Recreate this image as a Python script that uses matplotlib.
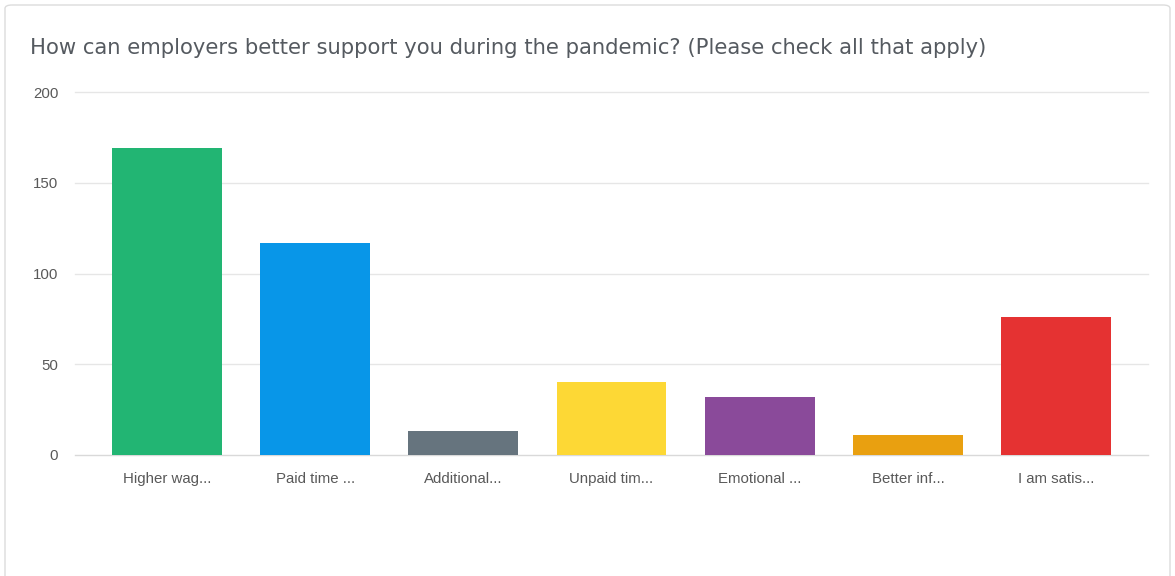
import matplotlib.pyplot as plt
from matplotlib.patches import FancyBboxPatch

# Survey answers (labels truncated as shown on the axis)
categories = ['Higher wag...', 'Paid time ...', 'Additional...', 'Unpaid tim...',
              'Emotional ...', 'Better inf...', 'I am satis...']
counts = [169, 117, 13, 40, 32, 11, 76]
colors = ['#22b573', '#0896e8', '#66747e', '#fdd835', '#8a4a9a', '#e9a010', '#e53232']
yticks = [0, 50, 100, 150, 200]

title = 'How can employers better support you during the pandemic? (Please check all that apply)'

fig = plt.figure(figsize=(11.75, 5.76), dpi=100)

# card outline
card = FancyBboxPatch((5 / 1175, -0.05), 1165 / 1175, 1.0 - 5 / 576 + 0.05,
                      boxstyle='round,pad=0,rounding_size=0.006',
                      transform=fig.transFigure, facecolor='white',
                      edgecolor='#dcdcdc', linewidth=1.0, zorder=-5)
fig.patches.append(card)

ax = fig.add_axes([75 / 1175, 1 - 455 / 576, (1148 - 75) / 1175, (455 - 92) / 576])
ax.set_zorder(2)
ax.set_facecolor('none')

x = range(len(categories))
ax.bar(x, counts, width=0.742, color=colors, zorder=3)

ax.set_ylim(0, 200)
ax.set_xlim(-0.62, len(categories) - 1 + 0.62)
ax.set_yticks(yticks)
ax.set_xticks(list(x))
ax.set_xticklabels(categories)

for v in yticks:
    ax.axhline(v, color='#d9d9d9' if v == 0 else '#e6e6e6', linewidth=1.0,
               zorder=1, clip_on=False)

for side in ax.spines.values():
    side.set_visible(False)
ax.tick_params(axis='both', length=0, labelsize=10.8, labelcolor='#595959')
ax.tick_params(axis='y', pad=12)
ax.tick_params(axis='x', pad=12)
for lbl in ax.get_xticklabels() + ax.get_yticklabels():
    lbl.set_fontfamily('Liberation Sans')

fig.text(30 / 1175, 1 - 48 / 576, title, fontsize=15.2, color='#555a60',
         family='DejaVu Sans', va='center', ha='left', zorder=5)

fig.savefig('out.png', dpi=100, facecolor='white')
